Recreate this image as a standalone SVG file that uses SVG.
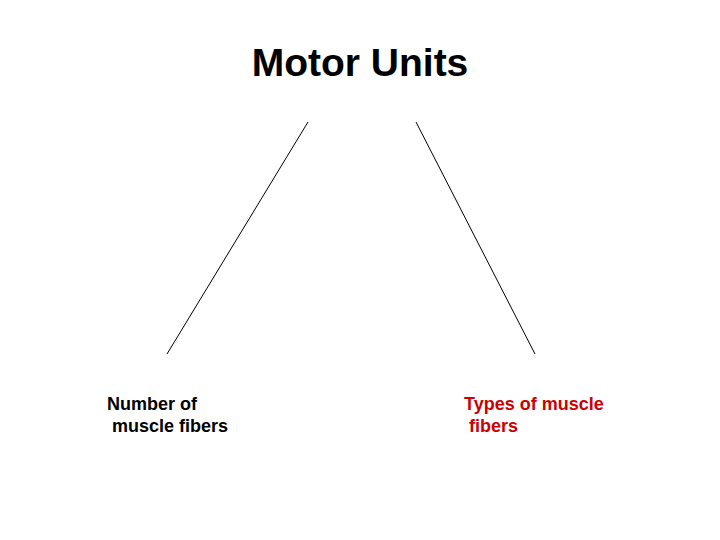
<svg xmlns="http://www.w3.org/2000/svg" width="720" height="540" viewBox="0 0 720 540">
<style>
.t{font-family:"Liberation Sans",Arial,sans-serif;font-weight:bold}
.lbl{font-size:18px}
.ln{stroke:#000;stroke-width:1;fill:none}
</style>
<rect width="720" height="540" fill="#fff"/>
<g id="title"><text class="t" x="360" y="76" font-size="39" text-anchor="middle">Motor Units</text></g>
<g id="connectors">
<line class="ln" x1="308" y1="122" x2="167" y2="354"/>
<line class="ln" x1="416" y1="122" x2="535" y2="354"/>
</g>
<g id="number"><text class="t lbl" fill="#000"><tspan x="107" y="410">Number of</tspan><tspan x="112" y="432">muscle fibers</tspan></text></g>
<g id="types"><text class="t lbl" fill="#cc0000"><tspan x="464" y="410">Types of muscle</tspan><tspan x="469" y="432">fibers</tspan></text></g>
</svg>
